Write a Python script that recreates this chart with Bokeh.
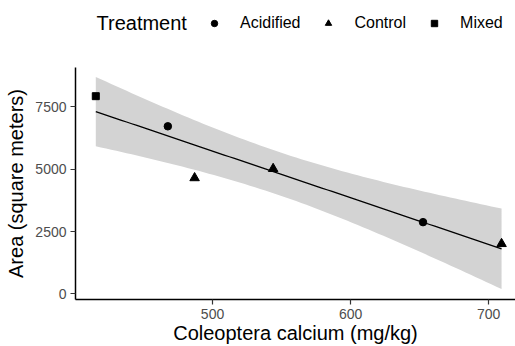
import numpy as np
from bokeh.plotting import figure
from bokeh.layouts import column
from bokeh.models import Range1d, Legend, LegendItem, Label, ColumnDataSource, FixedTicker
from bokeh.embed import file_html
from bokeh.resources import INLINE

# Data
treatment = ["Mixed", "Acidified", "Control", "Control", "Acidified", "Control"]
calcium = [415.4, 467.6, 487.0, 543.9, 652.5, 709.4]
area = [7930, 6722, 4650, 5020, 2879, 2010]
groups = ["Acidified", "Control", "Mixed"]
x_ticks = [500, 600, 700]
y_ticks = [0, 2500, 5000, 7500]
t_crit = 2.776  # 95% t quantile, df = 4

x = np.array(calcium)
y = np.array(area)
n = len(x)
slope, intercept = np.polyfit(x, y, 1)
resid = y - (slope * x + intercept)
s = np.sqrt(np.sum(resid ** 2) / (n - 2))
sxx = np.sum((x - x.mean()) ** 2)
xg = np.linspace(x.min(), x.max(), 80)
yg = slope * xg + intercept
se = s * np.sqrt(1.0 / n + (xg - x.mean()) ** 2 / sxx)
lo = yg - t_crit * se
hi = yg + t_crit * se

shapes = {"Acidified": ("circle", 7.5), "Control": ("triangle", 9.5), "Mixed": ("square", 7)}
sources = {}
for name in groups:
    idx = [i for i, t in enumerate(treatment) if t == name]
    sources[name] = dict(x=[calcium[i] for i in idx], y=[area[i] for i in idx])

# ---- legend strip (top); its frame is aligned with the main frame (left = 75px) ----
top = figure(width=515, height=67, output_backend="svg", toolbar_location=None,
             x_axis_type=None, y_axis_type=None,
             x_range=Range1d(0, 1), y_range=Range1d(0, 1),
             min_border_left=0, min_border_right=0, min_border_top=0, min_border_bottom=0)
top.outline_line_color = None
items = []
for name in groups:
    marker, size = shapes[name]
    # same data as the main panel; it lies outside this strip's ranges, so only the swatch shows
    r = top.scatter("x", "y", source=ColumnDataSource(sources[name]), marker=marker, size=size,
                    fill_color="black", line_color="black")
    items.append(LegendItem(label=name, renderers=[r]))
legend = Legend(items=items, orientation="horizontal", location=(131, 35),
                padding=0, margin=0, spacing=20, glyph_width=16, glyph_height=16,
                label_standoff=18, border_line_alpha=0, background_fill_alpha=0,
                label_text_font="Liberation Sans", label_text_font_size="16px",
                label_text_color="black")
top.add_layout(legend, "center")
top.add_layout(Label(x=21, y=45, x_units="screen", y_units="screen", text="Treatment",
                     text_font="Liberation Sans", text_font_size="20px", text_color="black",
                     text_baseline="middle"))

# ---- main panel ----
p = figure(width=515, height=279, output_backend="svg", toolbar_location=None,
           x_range=Range1d(400.7, 719.5), y_range=Range1d(-223, 9080),
           min_border_left=75, min_border_right=0, min_border_top=0, min_border_bottom=40)
p.outline_line_color = None
p.grid.grid_line_color = None

p.varea(x=xg, y1=lo, y2=hi, fill_color="#d3d3d3", fill_alpha=1.0)
p.line(xg, yg, line_color="black", line_width=1.3)

for name in groups:
    marker, size = shapes[name]
    p.scatter("x", "y", source=ColumnDataSource(sources[name]), marker=marker, size=size,
              fill_color="black", line_color="black")

for ax in [p.xaxis, p.yaxis]:
    ax.axis_line_color = "black"
    ax.axis_line_width = 1.5
    ax.major_tick_line_color = "#333333"
    ax.major_tick_line_width = 1.2
    ax.major_tick_out = 5
    ax.major_tick_in = 0
    ax.minor_tick_line_color = None
    ax.major_label_text_font = "Liberation Sans"
    ax.major_label_text_font_size = "14px"
    ax.major_label_text_color = "#4d4d4d"
    ax.axis_label_text_font = "Liberation Sans"
    ax.axis_label_text_font_size = "20px"
    ax.axis_label_text_font_style = "normal"
    ax.axis_label_text_color = "black"

p.xaxis.ticker = FixedTicker(ticks=x_ticks)
p.yaxis.ticker = FixedTicker(ticks=y_ticks)
p.xaxis.axis_label = "Coleoptera calcium (mg/kg)"
p.yaxis.axis_label = "Area (square meters)"
p.xaxis.major_label_standoff = 4
p.yaxis.major_label_standoff = 4
p.xaxis.axis_label_standoff = 0
p.yaxis.axis_label_standoff = 5

layout = column(top, p, spacing=0)
open("out.html", "w").write(file_html(layout, INLINE))
